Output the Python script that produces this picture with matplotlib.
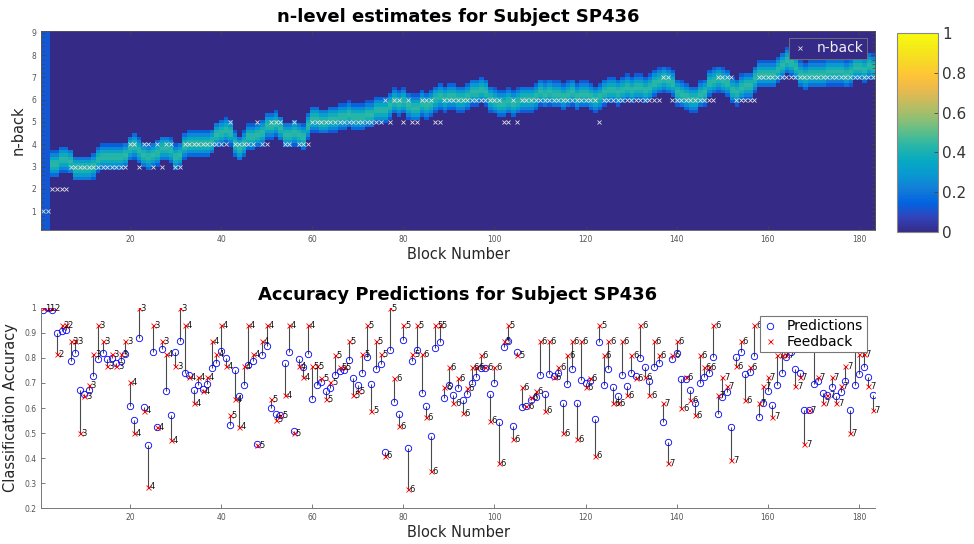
import numpy as np
import matplotlib
matplotlib.use("Agg")
import matplotlib.pyplot as plt
from matplotlib.colors import LinearSegmentedColormap
from matplotlib.ticker import MultipleLocator

# n-back level played in each block
nback = [1, 1, 2, 2, 2, 2, 3, 3, 3, 3,
         3, 3, 3, 3, 3, 3, 3, 3, 3, 4,
         4, 3, 4, 4, 3, 4, 3, 4, 4, 3,
         3, 4, 4, 4, 4, 4, 4, 4, 4, 4,
         4, 5, 4, 4, 4, 4, 4, 5, 4, 4,
         5, 5, 5, 4, 4, 5, 4, 4, 4, 5,
         5, 5, 5, 5, 5, 5, 5, 5, 5, 5,
         5, 5, 5, 5, 5, 6, 5, 6, 6, 5,
         6, 5, 5, 6, 6, 6, 5, 5, 6, 6,
         6, 6, 6, 6, 6, 6, 6, 6, 6, 6,
         6, 5, 5, 6, 5, 6, 6, 6, 6, 6,
         6, 6, 6, 6, 6, 6, 6, 6, 6, 6,
         6, 6, 5, 6, 6, 6, 6, 6, 6, 6,
         6, 6, 6, 6, 6, 6, 7, 7, 6, 6,
         6, 6, 6, 6, 6, 6, 6, 6, 7, 7,
         7, 7, 6, 6, 6, 6, 6, 7, 7, 7,
         7, 7, 7, 7, 7, 7, 7, 7, 7, 7,
         7, 7, 7, 7, 7, 7, 7, 7, 7, 7,
         7, 7, 7]

# predicted classification accuracy per block
pred = [.993, .998, .993, .898, .906, .911, .786, .819, .672, .656,
        .671, .727, .795, .818, .794, .798, .780, .787, .815, .607,
        .551, .878, .605, .451, .822, .523, .835, .666, .571, .824,
        .869, .741, .731, .672, .690, .677, .696, .760, .779, .826,
        .799, .532, .753, .648, .693, .772, .786, .457, .811, .846,
        .599, .577, .571, .779, .822, .507, .795, .764, .815, .634,
        .690, .704, .668, .681, .733, .747, .752, .792, .720, .693,
        .741, .803, .697, .757, .776, .426, .831, .623, .577, .871,
        .441, .786, .830, .661, .607, .488, .838, .862, .638, .693,
        .652, .681, .630, .654, .701, .725, .759, .759, .654, .700,
        .544, .845, .866, .527, .822, .603, .607, .630, .644, .731,
        .657, .737, .728, .741, .621, .697, .757, .621, .711, .699,
        .708, .557, .865, .690, .757, .685, .648, .732, .688, .739,
        .728, .798, .762, .706, .764, .780, .545, .464, .795, .819,
        .714, .715, .672, .619, .699, .722, .739, .805, .575, .645,
        .662, .524, .805, .822, .734, .743, .806, .564, .621, .666,
        .611, .692, .739, .802, .822, .757, .739, .594, .591, .695,
        .707, .658, .652, .682, .648, .662, .707, .591, .692, .736,
        .762, .723, .653]

# accuracy reported back to the subject
feedback = [1.0, 1.0, 1.0, .815, .930, .930, .869, .869, .500, .648,
            .690, .815, .930, .869, .766, .815, .766, .815, .869, .705,
            .500, 1.0, .590, .286, .930, .523, .869, .815, .473, .766,
            1.0, .930, .724, .621, .724, .668, .724, .867, .815, .930,
            .768, .571, .634, .526, .768, .930, .815, .451, .867, .930,
            .634, .554, .571, .650, .930, .500, .768, .724, .930, .766,
            .766, .720, .634, .704, .811, .764, .764, .867, .650, .668,
            .814, .930, .590, .867, .814, .410, 1.0, .721, .527, .930,
            .276, .814, .930, .814, .564, .349, .930, .930, .684, .764,
            .621, .721, .581, .681, .764, .764, .811, .764, .550, .764,
            .380, .867, .930, .476, .812, .684, .607, .644, .666, .867,
            .590, .867, .724, .764, .500, .811, .867, .476, .867, .684,
            .721, .410, .930, .811, .867, .621, .621, .867, .650, .812,
            .721, .930, .722, .651, .868, .811, .619, .381, .811, .867,
            .601, .722, .633, .572, .811, .765, .765, .930, .651, .722,
            .686, .392, .767, .868, .633, .765, .930, .620, .686, .723,
            .566, .813, .813, .813, .867, .686, .724, .457, .591, .867,
            .724, .621, .652, .724, .621, .686, .767, .500, .867, .814,
            .814, .686, .593]

# centre of the n-level posterior per block (first blocks use a flat prior)
post_center = [0, 0, 3.1, 3.1, 3.3, 3.3, 3.2, 2.9, 2.9, 2.9,
               2.9, 3.0, 3.3, 3.4, 3.4, 3.4, 3.4, 3.4, 3.5, 3.8,
               3.9, 3.7, 3.5, 3.4, 3.5, 3.6, 3.8, 3.8, 3.7, 3.4,
               3.5, 3.9, 4.0, 4.0, 4.0, 4.0, 4.0, 4.1, 4.4, 4.5,
               4.6, 4.5, 4.0, 3.8, 4.0, 4.3, 4.3, 4.4, 4.5, 4.8,
               4.8, 4.9, 4.7, 4.4, 4.4, 4.5, 4.4, 4.3, 4.8, 5.1,
               5.1, 5.0, 5.0, 5.1, 5.1, 5.2, 5.2, 5.3, 5.2, 5.2,
               5.2, 5.3, 5.3, 5.5, 5.5, 5.5, 5.7, 5.9, 5.8, 5.9,
               5.7, 5.6, 5.6, 5.8, 5.7, 5.8, 6.0, 6.1, 6.0, 6.1,
               6.1, 6.0, 6.0, 6.1, 6.3, 6.3, 6.4, 6.3, 6.0, 5.9,
               5.8, 5.8, 5.9, 5.8, 5.9, 6.0, 6.0, 6.0, 6.1, 6.3,
               6.2, 6.3, 6.2, 6.2, 6.1, 6.2, 6.3, 6.1, 6.2, 6.2,
               6.1, 6.0, 6.1, 6.3, 6.4, 6.4, 6.3, 6.4, 6.5, 6.4,
               6.5, 6.5, 6.4, 6.5, 6.7, 6.8, 6.9, 6.8, 6.7, 6.3,
               6.2, 6.1, 6.0, 6.0, 6.2, 6.3, 6.7, 6.8, 6.9, 6.8,
               6.7, 6.4, 6.3, 6.5, 6.6, 6.6, 6.9, 7.1, 7.1, 7.1,
               7.1, 7.3, 7.5, 7.7, 7.6, 7.4, 7.1, 7.0, 7.1, 7.1,
               7.1, 7.1, 7.2, 7.2, 7.2, 7.2, 7.1, 7.2, 7.4, 7.4,
               7.3, 7.5, 7.4]
prior_blocks = 2
prior_level = 0.12

blocks = np.arange(1, len(nback) + 1)

parula = LinearSegmentedColormap.from_list("parula", [
    (0.2081, 0.1663, 0.5292), (0.1959, 0.2645, 0.7279), (0.0117, 0.3875, 0.8820),
    (0.0723, 0.4887, 0.8467), (0.0343, 0.5966, 0.8199), (0.0267, 0.6642, 0.7607),
    (0.1453, 0.7098, 0.6646), (0.3482, 0.7424, 0.5473), (0.5709, 0.7485, 0.4494),
    (0.7525, 0.7384, 0.3768), (0.9139, 0.7258, 0.3063), (0.9990, 0.7653, 0.2164),
    (0.9697, 0.8481, 0.1475), (0.9598, 0.9218, 0.0948), (0.9763, 0.9831, 0.0538)])

# posterior grid over n-level
y_lo, y_hi, n_rows = 0.15, 9.08, 60
step = (y_hi - y_lo) / n_rows
levels = y_lo + step * (np.arange(n_rows) + 0.5)
centers = np.array(post_center)
grid = 0.44 * np.exp(-0.5 * ((levels[:, None] - centers[None, :]) / 0.36) ** 2)
grid[grid < 0.12] = 0
grid[:, :prior_blocks] = prior_level

tick_col = "#555555"
plt.rcParams["font.family"] = "DejaVu Sans"

fig = plt.figure(figsize=(9.74, 5.44), dpi=100)

# --- n-level estimates ---
ax1 = fig.add_axes([0.0421, 0.577, 0.8563, 0.366])
im = ax1.imshow(grid, origin="lower", aspect="auto", cmap=parula, vmin=0, vmax=1,
                extent=[0.5, len(blocks) + 0.5, y_lo, y_hi], interpolation="nearest")
ax1.plot(blocks, nback, "x", color="#e0e0e0", ms=3.0, mew=0.6, label="n-back")
ax1.set_xlim(0.5, len(blocks) + 0.5)
ax1.set_ylim(y_lo, y_hi)
ax1.set_xticks(range(20, 181, 20))
ax1.set_yticks(range(1, 10))
ax1.yaxis.set_minor_locator(MultipleLocator(0.2))
ax1.tick_params(which="both", direction="in", top=True, right=True,
                labelsize=5.5, labelcolor=tick_col, color="#444444")
ax1.tick_params(which="major", length=3, width=0.6)
ax1.tick_params(which="minor", length=2, width=0.5)
for s in ax1.spines.values():
    s.set_color("#555555")
    s.set_linewidth(0.6)
ax1.set_xlabel("Block Number", fontsize=10.5, color="#262626", labelpad=2)
ax1.set_ylabel("n-back", fontsize=10.5, color="#262626", labelpad=4)
leg1 = ax1.legend(loc="upper right", bbox_to_anchor=(0.99, 0.965), borderaxespad=0,
                  facecolor=parula(0.0), edgecolor="#777777", framealpha=1,
                  fancybox=False, fontsize=10, labelcolor="#eeeeee",
                  handlelength=1.0, handletextpad=0.7, borderpad=0.25)
leg1.get_frame().set_linewidth(0.6)
fig.text(0.470, 0.968, "n-level estimates for Subject SP436", ha="center", va="center",
         fontsize=13, fontweight="bold")

cax = fig.add_axes([0.921, 0.5735, 0.0416, 0.366])
cb = fig.colorbar(im, cax=cax)
cb.set_ticks([0, 0.2, 0.4, 0.6, 0.8, 1])
cb.set_ticklabels(["0", "0.2", "0.4", "0.6", "0.8", "1"])
cax.tick_params(labelsize=11, labelcolor="#333333", direction="in", length=3,
                width=0.6, color="#444444")
cb.outline.set_edgecolor("#888888")
cb.outline.set_linewidth(0.8)

# --- accuracy predictions ---
ax2 = fig.add_axes([0.0421, 0.066, 0.8563, 0.368])
pred_a = np.array(pred)
fb_a = np.array(feedback)
ax2.vlines(blocks, np.minimum(pred_a, fb_a), np.maximum(pred_a, fb_a),
           colors="#4a4a4a", linewidth=0.8)
ax2.plot(blocks, pred_a, "o", mfc="none", mec="blue", ms=4.6, mew=0.6,
         label="Predictions")
ax2.plot(blocks, fb_a, "x", color="red", ms=3.6, mew=0.6, label="Feedback")
for b, f, n in zip(blocks, fb_a, nback):
    ax2.annotate(str(n), (b, f), xytext=(1.2, -0.3), textcoords="offset points",
                 fontsize=6, ha="left", va="center", color="#111111")
ax2.set_xlim(0.5, len(blocks) + 0.5)
ax2.set_ylim(0.2, 1.0)
ax2.set_xticks(range(20, 181, 20))
ax2.set_yticks([0.2, 0.3, 0.4, 0.5, 0.6, 0.7, 0.8, 0.9, 1.0])
ax2.set_yticklabels(["0.2", "0.3", "0.4", "0.5", "0.6", "0.7", "0.8", "0.9", "1"])
ax2.tick_params(direction="in", length=3, width=0.6, labelsize=5.5,
                labelcolor=tick_col, color="#666666")
ax2.spines["top"].set_visible(False)
ax2.spines["right"].set_visible(False)
for s in ("left", "bottom"):
    ax2.spines[s].set_color("#777777")
    ax2.spines[s].set_linewidth(0.7)
ax2.set_xlabel("Block Number", fontsize=10.5, color="#262626", labelpad=2)
ax2.set_ylabel("Classification Accuracy", fontsize=10.5, color="#262626", labelpad=4)
leg2 = ax2.legend(loc="upper right", bbox_to_anchor=(0.99, 0.96), borderaxespad=0,
                  fancybox=False, framealpha=1, edgecolor="#777777", fontsize=10,
                  handlelength=1.0, handletextpad=0.7, borderpad=0.25, labelspacing=0.1)
leg2.get_frame().set_linewidth(0.8)
fig.text(0.470, 0.458, "Accuracy Predictions for Subject SP436", ha="center",
         va="center", fontsize=13, fontweight="bold")

fig.savefig("out.png", dpi=100)
